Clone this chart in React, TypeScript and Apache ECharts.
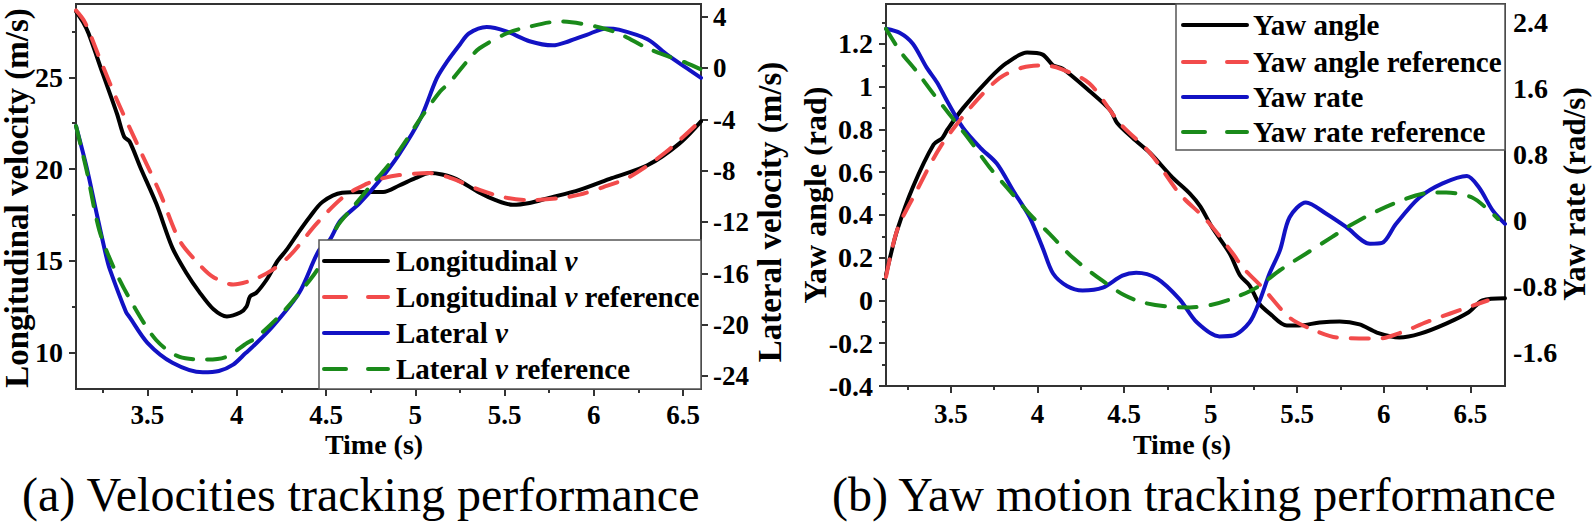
import React, { useEffect, useRef } from "react";
import * as echarts from "echarts";

const FONT = "'Liberation Serif', 'Times New Roman', serif";

// ---------- (a) velocities ----------
const xMajorA = [3.5, 4, 4.5, 5, 5.5, 6, 6.5];
const xMinorA = [3.25, 3.75, 4.25, 4.75, 5.25, 5.75, 6.25];
const lonTicks = [10, 15, 20, 25];
const lonMinor = [12.5, 17.5, 22.5, 27.5];
const latTicks = [-24, -20, -16, -12, -8, -4, 0, 4];

const lonVel = [
  [3.1, 28.6], [3.14, 28.0], [3.17, 27.4], [3.25, 25.2], [3.33, 23.0], [3.37, 21.75], [3.4, 21.5],
  [3.46, 20.1], [3.55, 18.1], [3.64, 15.7], [3.72, 14.3], [3.79, 13.3], [3.87, 12.35], [3.945, 11.96],
  [4.02, 12.17], [4.055, 12.5], [4.075, 13.05], [4.11, 13.25], [4.17, 14.0], [4.23, 15.0], [4.28, 15.6],
  [4.35, 16.6], [4.41, 17.4], [4.48, 18.2], [4.59, 18.7], [4.72, 18.75], [4.82, 18.75], [4.91, 19.1],
  [5.0, 19.5], [5.08, 19.78], [5.15, 19.7], [5.23, 19.45], [5.36, 18.7], [5.45, 18.3], [5.545, 18.05],
  [5.64, 18.15], [5.74, 18.4], [5.92, 18.86], [6.1, 19.5], [6.3, 20.2], [6.48, 21.4], [6.6, 22.6],
];
const lonRef = [
  [3.1, 28.65], [3.15, 28.0], [3.23, 26.1], [3.33, 23.75], [3.46, 21.0], [3.57, 18.7], [3.68, 16.1],
  [3.79, 14.8], [3.87, 14.1], [3.98, 13.7], [4.09, 13.95], [4.2, 14.5], [4.3, 15.3], [4.45, 17.05],
  [4.6, 18.5], [4.73, 19.2], [4.8, 19.45], [4.91, 19.67], [5.08, 19.78], [5.2, 19.5], [5.36, 18.86],
  [5.5, 18.45], [5.64, 18.3], [5.8, 18.4], [5.92, 18.6], [6.05, 19.0], [6.2, 19.57], [6.4, 20.9], [6.6, 22.66],
];
const latVel = [
  [3.1, -4.5], [3.16, -7.75], [3.22, -11.6], [3.27, -14.7], [3.29, -15.7], [3.38, -19.0], [3.4, -19.4],
  [3.5, -21.4], [3.64, -22.95], [3.81, -23.7], [3.9, -23.6], [3.98, -23.1], [4.05, -22.2], [4.09, -21.7],
  [4.2, -20.15], [4.35, -17.5], [4.46, -14.2], [4.52, -13.4], [4.58, -11.9], [4.69, -10.5], [4.8, -8.76],
  [4.91, -6.7], [5.03, -3.9], [5.12, -0.8], [5.18, 0.55], [5.25, 1.85], [5.3, 2.7], [5.4, 3.2], [5.51, 2.87],
  [5.64, 2.1], [5.77, 1.78], [5.86, 2.1], [5.96, 2.6], [6.07, 3.1], [6.14, 3.0], [6.3, 2.25], [6.41, 1.05],
  [6.52, 0], [6.6, -0.75],
];
const latRef = [
  [3.1, -4.5], [3.16, -8.0], [3.23, -12.6], [3.31, -15.5], [3.42, -18.45], [3.55, -21.2], [3.68, -22.5],
  [3.83, -22.7], [3.94, -22.5], [4.06, -21.4], [4.11, -21.0], [4.26, -19.0], [4.41, -16.5], [4.46, -15.5],
  [4.56, -12.4], [4.65, -10.85], [4.73, -9.5], [4.87, -7.2], [4.95, -5.6], [5.03, -3.9], [5.14, -1.8],
  [5.19, -1.15], [5.3, 0.7], [5.36, 1.55], [5.51, 2.7], [5.6, 3.1], [5.81, 3.64], [6.01, 3.25], [6.14, 2.7],
  [6.3, 1.55], [6.42, 0.9], [6.52, 0.4], [6.6, -0.1],
];

// ---------- (b) yaw motion ----------
const xMajorB = [3.5, 4, 4.5, 5, 5.5, 6, 6.5];
const xMinorB = [3.25, 3.75, 4.25, 4.75, 5.25, 5.75, 6.25];
const angTicks = [-0.4, -0.2, 0, 0.2, 0.4, 0.6, 0.8, 1, 1.2];
const angMinor = [-0.3, -0.1, 0.1, 0.3, 0.5, 0.7, 0.9, 1.1, 1.3];
const rateTicks = [-1.6, -0.8, 0, 0.8, 1.6, 2.4];

const yawAngle = [
  [3.125, 0.12], [3.148, 0.2], [3.19, 0.33], [3.28, 0.53], [3.4, 0.73], [3.45, 0.76], [3.48, 0.8],
  [3.57, 0.9], [3.725, 1.04], [3.82, 1.11], [3.94, 1.16], [4.03, 1.15], [4.09, 1.1], [4.145, 1.085],
  [4.3, 0.98], [4.42, 0.89], [4.46, 0.83], [4.55, 0.76], [4.65, 0.69], [4.78, 0.575], [4.88, 0.5],
  [4.94, 0.44], [5.01, 0.34], [5.11, 0.22], [5.17, 0.117], [5.225, 0.07], [5.28, -0.014], [5.34, -0.06],
  [5.44, -0.117], [5.51, -0.117], [5.63, -0.103], [5.745, -0.098], [5.86, -0.112], [5.96, -0.15],
  [6.09, -0.173], [6.21, -0.155], [6.36, -0.108], [6.49, -0.055], [6.57, 0.0], [6.7, 0.01],
];
const yawAngleRef = [
  [3.125, 0.11], [3.19, 0.33], [3.3, 0.51], [3.44, 0.72], [3.61, 0.9], [3.78, 1.04], [3.915, 1.09],
  [4.03, 1.1], [4.13, 1.085], [4.3, 1.015], [4.475, 0.83], [4.65, 0.69], [4.82, 0.5], [4.977, 0.375],
  [5.128, 0.22], [5.185, 0.155], [5.3, 0.06], [5.456, -0.08], [5.6, -0.14], [5.73, -0.173], [5.975, -0.178],
  [6.1, -0.15], [6.25, -0.1], [6.51, -0.025], [6.6, 0.0],
];
const yawRate = [
  [3.125, 2.32], [3.206, 2.27], [3.28, 2.14], [3.36, 1.85], [3.42, 1.67], [3.477, 1.45], [3.57, 1.12],
  [3.67, 0.88], [3.765, 0.69], [3.86, 0.36], [3.955, 0.04], [4.03, -0.33], [4.09, -0.64], [4.17, -0.79],
  [4.26, -0.845], [4.377, -0.81], [4.49, -0.665], [4.57, -0.63], [4.69, -0.7], [4.82, -0.95], [4.92, -1.23],
  [5.05, -1.4], [5.13, -1.39], [5.225, -1.23], [5.283, -0.97], [5.34, -0.64], [5.4, -0.36], [5.456, 0.04],
  [5.55, 0.22], [5.67, 0.08], [5.785, -0.08], [5.92, -0.28], [5.99, -0.27], [6.07, -0.04], [6.206, 0.28],
  [6.34, 0.45], [6.48, 0.54], [6.55, 0.4], [6.63, 0.12], [6.7, -0.04],
];
const yawRateRef = [
  [3.125, 2.32], [3.206, 2.05], [3.3, 1.81], [3.4, 1.53], [3.49, 1.29], [3.61, 0.97], [3.725, 0.64],
  [3.84, 0.36], [3.955, 0.08], [4.07, -0.16], [4.205, -0.45], [4.377, -0.73], [4.5, -0.9], [4.61, -0.99],
  [4.75, -1.04], [4.88, -1.05], [5.0, -1.02], [5.128, -0.94], [5.265, -0.81], [5.4, -0.6], [5.55, -0.4],
  [5.7, -0.2], [5.82, -0.04], [6.05, 0.2], [6.28, 0.34], [6.36, 0.34], [6.51, 0.28], [6.63, 0.08], [6.66, 0.02],
];

const BLACK = "#000000";
const RED = "#f24b4b";
const BLUE = "#1212c4";
const GREEN = "#1a8a1a";
const AXIS = "#333333";
const DASH = [18, 14];

function labelStyle(size: number) {
  return { fontFamily: FONT, fontSize: size, fontWeight: "bold", color: "#000" };
}

function majorAxis(extra: any, ticks: number[], margin: number, size: number, tickLen = 7) {
  return {
    type: "value",
    ...extra,
    axisLine: { show: true, onZero: false, lineStyle: { color: AXIS, width: 2 } },
    axisTick: { show: tickLen > 0, customValues: ticks, length: tickLen, lineStyle: { color: AXIS, width: 2 } },
    axisLabel: { show: true, customValues: ticks, margin, ...labelStyle(size) },
    splitLine: { show: false },
  };
}
function minorAxis(extra: any, ticks: number[]) {
  return {
    type: "value",
    ...extra,
    axisLine: { show: false, onZero: false },
    axisTick: { show: true, customValues: ticks, length: 4, lineStyle: { color: AXIS, width: 2 } },
    axisLabel: { show: false },
    splitLine: { show: false },
  };
}

function lineSeries(name: string, data: number[][], color: string, dashed: boolean, xi: number, yi: number) {
  return {
    name,
    type: "line",
    data,
    xAxisIndex: xi,
    yAxisIndex: yi,
    symbol: "none",
    showSymbol: false,
    smooth: 0.3,
    lineStyle: { color, width: 4, type: dashed ? DASH : "solid", cap: "round", join: "round" },
    z: dashed ? 3 : 2,
  };
}

function textEl(text: string, x: number, y: number, size: number, opts: any = {}) {
  return {
    type: "text",
    x,
    y,
    z: 101,
    rotation: opts.rotation || 0,
    style: {
      text,
      fontFamily: FONT,
      fontSize: size,
      fontWeight: opts.weight || "bold",
      fill: "#000",
      align: opts.align || "left",
      textAlign: opts.align || "left",
      verticalAlign: "middle",
      textVerticalAlign: "middle",
      rich: {
        i: { fontFamily: FONT, fontSize: size, fontWeight: "bold", fontStyle: "italic", fill: "#000" },
      },
    },
  };
}

function legendLine(x1: number, x2: number, y: number, color: string, dashed: boolean) {
  return {
    type: "line",
    z: 101,
    shape: { x1, y1: y, x2, y2: y },
    style: { stroke: color, lineWidth: 4, lineDash: dashed ? [22, 22] : null, lineCap: "round" },
  };
}

const legendA = [
  { label: "Longitudinal {i|v}", color: BLACK, dashed: false },
  { label: "Longitudinal {i|v} reference", color: RED, dashed: true },
  { label: "Lateral {i|v}", color: BLUE, dashed: false },
  { label: "Lateral {i|v} reference", color: GREEN, dashed: true },
];
const legendB = [
  { label: "Yaw angle", color: BLACK, dashed: false },
  { label: "Yaw angle reference", color: RED, dashed: true },
  { label: "Yaw rate", color: BLUE, dashed: false },
  { label: "Yaw rate reference", color: GREEN, dashed: true },
];

export default function App() {
  const ref = useRef<HTMLDivElement>(null);
  useEffect(() => {
    if (!ref.current) return;
    const chart = echarts.init(ref.current, null, { renderer: "svg" });
    const rowsA = [261, 297, 333, 369];
    const rowsB = [25, 62, 97, 132];
    const graphics: any[] = [
      {
        type: "rect",
        z: 100,
        shape: { x: 319, y: 240, width: 382, height: 149 },
        style: { fill: "#fff", stroke: "#555", lineWidth: 1.5 },
      },
      {
        type: "rect",
        z: 100,
        shape: { x: 1176, y: 4, width: 329, height: 146 },
        style: { fill: "#fff", stroke: "#555", lineWidth: 1.5 },
      },
    ];
    legendA.forEach((e, i) => {
      graphics.push(legendLine(324, 388, rowsA[i], e.color, e.dashed));
      graphics.push(textEl(e.label, 396, rowsA[i], 29));
    });
    legendB.forEach((e, i) => {
      graphics.push(legendLine(1183, 1247, rowsB[i], e.color, e.dashed));
      graphics.push(textEl(e.label, 1253, rowsB[i], 29));
    });
    // axis titles
    graphics.push(textEl("Longitudinal velocity (m/s)", 17, 198, 33, { align: "center", rotation: Math.PI / 2 }));
    graphics.push(textEl("Lateral velocity (m/s)", 770, 212, 33, { align: "center", rotation: Math.PI / 2 }));
    graphics.push(textEl("Time (s)", 374, 444, 28, { align: "center" }));
    graphics.push(textEl("Yaw angle (rad)", 815, 195, 32, { align: "center", rotation: Math.PI / 2 }));
    graphics.push(textEl("Yaw rate (rad/s)", 1574, 194, 31, { align: "center", rotation: Math.PI / 2 }));
    graphics.push(textEl("Time (s)", 1182, 444, 28, { align: "center" }));
    // captions
    graphics.push(textEl("(a) Velocities tracking performance", 22, 494, 48, { weight: "normal" }));
    graphics.push(textEl("(b) Yaw motion tracking performance", 832, 494, 48, { weight: "normal" }));

    const option: any = {
      animation: false,
      backgroundColor: "#ffffff",
      textStyle: { fontFamily: FONT },
      grid: [
        { left: 76, top: 4, width: 625, height: 385, show: true, borderColor: AXIS, borderWidth: 2, backgroundColor: "transparent" },
        { left: 886, top: 4, width: 619, height: 382, show: true, borderColor: AXIS, borderWidth: 2, backgroundColor: "transparent" },
      ],
      xAxis: [
        majorAxis({ gridIndex: 0, min: 3.1, max: 6.6, position: "bottom" }, xMajorA, 12, 27),
        minorAxis({ gridIndex: 0, min: 3.1, max: 6.6, position: "bottom" }, xMinorA),
        majorAxis({ gridIndex: 1, min: 3.125, max: 6.7, position: "bottom" }, xMajorB, 14, 27),
        minorAxis({ gridIndex: 1, min: 3.125, max: 6.7, position: "bottom" }, xMinorB),
      ],
      yAxis: [
        majorAxis({ gridIndex: 0, min: 8, max: 29, position: "left" }, lonTicks, 13, 28),
        minorAxis({ gridIndex: 0, min: 8, max: 29, position: "left" }, lonMinor),
        majorAxis({ gridIndex: 0, min: -25, max: 5, position: "right" }, latTicks, 12, 27),
        majorAxis({ gridIndex: 1, min: -0.4, max: 1.387, position: "left" }, angTicks, 13, 28),
        minorAxis({ gridIndex: 1, min: -0.4, max: 1.387, position: "left" }, angMinor),
        majorAxis({ gridIndex: 1, min: -2.0, max: 2.62, position: "right" }, rateTicks, 8, 28, 0),
      ],
      series: [
        lineSeries("Longitudinal v", lonVel, BLACK, false, 0, 0),
        lineSeries("Lateral v", latVel, BLUE, false, 0, 2),
        lineSeries("Longitudinal v reference", lonRef, RED, true, 0, 0),
        lineSeries("Lateral v reference", latRef, GREEN, true, 0, 2),
        lineSeries("Yaw angle", yawAngle, BLACK, false, 2, 3),
        lineSeries("Yaw rate", yawRate, BLUE, false, 2, 5),
        lineSeries("Yaw angle reference", yawAngleRef, RED, true, 2, 3),
        lineSeries("Yaw rate reference", yawRateRef, GREEN, true, 2, 5),
      ],
      graphic: { elements: graphics },
    };
    chart.setOption(option);
    return () => chart.dispose();
  }, []);
  return (
    <div
      ref={ref}
      style={{ position: "absolute", left: 0, top: 0, width: 1592, height: 526, background: "#fff" }}
    />
  );
}
